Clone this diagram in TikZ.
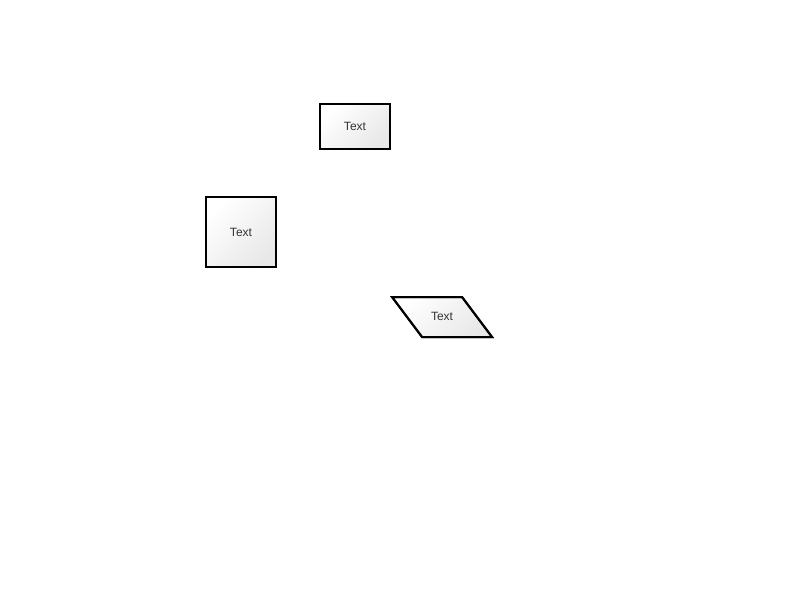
\documentclass[tikz,border=0pt]{standalone}
\usepackage{fontspec}
\setmainfont{Liberation Sans}
\begin{document}
\begin{tikzpicture}[x=0.75pt,y=-0.75pt,
  shapebox/.style={draw=black, line width=1.5pt, shading=axis, top color=white, bottom color=black!9, shading angle=45, inner sep=0pt, font=\fontsize{9pt}{11pt}\selectfont, text=black!80},
  labeltext/.style={font=\fontsize{9pt}{11pt}\selectfont, text=black!80, inner sep=0pt}]
\useasboundingbox (0,0) rectangle (800,600);
\node[shapebox, minimum width=70*0.75pt, minimum height=45*0.75pt] (r1) at (355,126.5) {Text};
\node[shapebox, minimum width=70*0.75pt, minimum height=70*0.75pt] (r2) at (241,232) {Text};
\fill[draw=black, line width=1.5pt, line join=miter, shading=axis, top color=white, bottom color=black!9, shading angle=45]
  (392,297) -- (462,297) -- (492,337) -- (422,337) -- cycle;
\draw[black, line width=1.5pt, line join=miter] (392,297) -- (462,297) -- (492,337) -- (422,337) -- cycle;
\node[labeltext] (p) at (442,316) {Text};
\end{tikzpicture}
\end{document}
